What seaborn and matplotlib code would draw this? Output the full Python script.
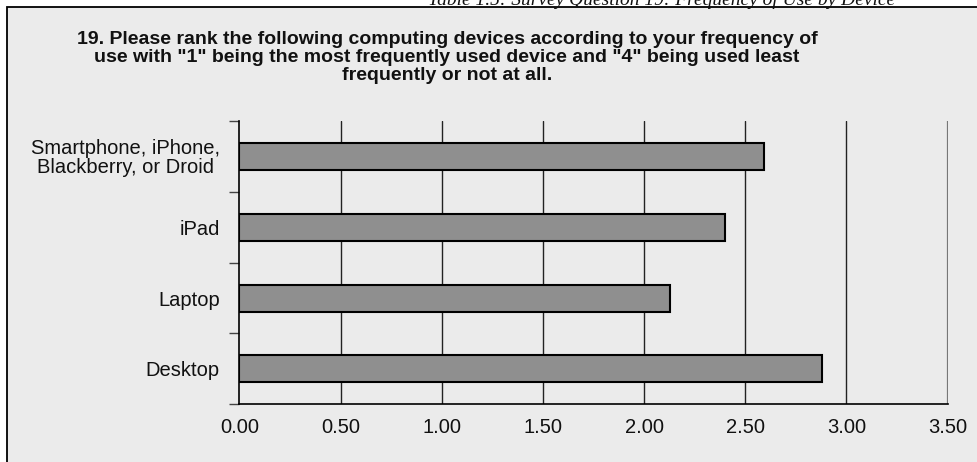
import matplotlib
matplotlib.use("Agg")
import matplotlib.pyplot as plt
from matplotlib.patches import Rectangle
import seaborn as sns
import pandas as pd
import numpy as np

devices = ["Smartphone, iPhone,\nBlackberry, or Droid", "iPad", "Laptop", "Desktop"]
mean_rank = [2.59, 2.40, 2.13, 2.88]
x_ticks = [0.0, 0.5, 1.0, 1.5, 2.0, 2.5, 3.0, 3.5]
x_tick_labels = ["0.00", "0.50", "1.00", "1.50", "2.00", "2.50", "3.00", "3.50"]
title_lines = [
    "19. Please rank the following computing devices according to your frequency of",
    "use with \"1\" being the most frequently used device and \"4\" being used least",
    "frequently or not at all.",
]
caption = "Table 1.5: Survey Question 19: Frequency of Use by Device"

df = pd.DataFrame({"device": devices, "rank": mean_rank})

sns.set_theme(style="white")
plt.rcParams["font.family"] = ["Liberation Sans", "DejaVu Sans"]

W, H = 978, 462
fig = plt.figure(figsize=(W / 100, H / 100), dpi=100, facecolor="white")
bg = "#ebebeb"
fig.patches.append(Rectangle((7 / W, -0.05), 1.2, (H - 7) / H + 0.05,
                             transform=fig.transFigure, facecolor=bg,
                             edgecolor="black", linewidth=1.3, zorder=-5))

ax = fig.add_axes([239.3 / W, 1 - 404.3 / H, (947.7 - 239.3) / W, (404.3 - 121) / H])
ax.set_facecolor(bg)
ax.set_zorder(2)

sns.barplot(data=df, x="rank", y="device", orient="h", color="#8f8f8f",
            saturation=1, width=0.38, edgecolor="black", linewidth=1.5, ax=ax, zorder=3)

ax.set_xlim(0, 3.5)
ax.set_ylim(3.5, -0.5)
ax.set_xticks(x_ticks)
ax.set_xticklabels(x_tick_labels, fontsize=14.5)
for xv in x_ticks[1:-1]:
    ax.axvline(xv, color="#222222", linewidth=1.0, zorder=1)
ax.axvline(x_ticks[-1], color="#777777", linewidth=1.6, zorder=1)

ax.set_yticks(range(len(devices)))
ax.set_yticklabels(devices, fontsize=14.5, linespacing=1.0)
ax.set_yticks(np.arange(-0.5, len(devices), 1.0), minor=True)
ax.tick_params(axis="y", which="major", length=0, pad=14, colors="#111111")
ax.tick_params(axis="y", which="minor", length=7, width=1, color="#444444", left=True)
ax.tick_params(axis="x", which="major", length=0, pad=10, colors="#111111")
for t in ax.get_yticklabels():
    t.set_horizontalalignment("right")
    t.set_multialignment("center")

ax.set_xlabel("")
ax.set_ylabel("")
for s in ["top", "right"]:
    ax.spines[s].set_visible(False)
ax.spines["left"].set_color("black")
ax.spines["left"].set_linewidth(1.2)
ax.spines["bottom"].set_color("black")
ax.spines["bottom"].set_linewidth(1.2)

for i, line in enumerate(title_lines):
    fig.text(447 / W, 1 - (39 + 18 * i) / H, line, ha="center", va="center",
             fontsize=14, fontweight="bold", color="#111111")

fig.text(662 / W, 1 - 0 / H, caption, ha="center", va="center", fontsize=14,
         family=["Liberation Serif", "DejaVu Serif"], style="italic", color="#111111")

fig.savefig("out.png", dpi=100, facecolor="white")
